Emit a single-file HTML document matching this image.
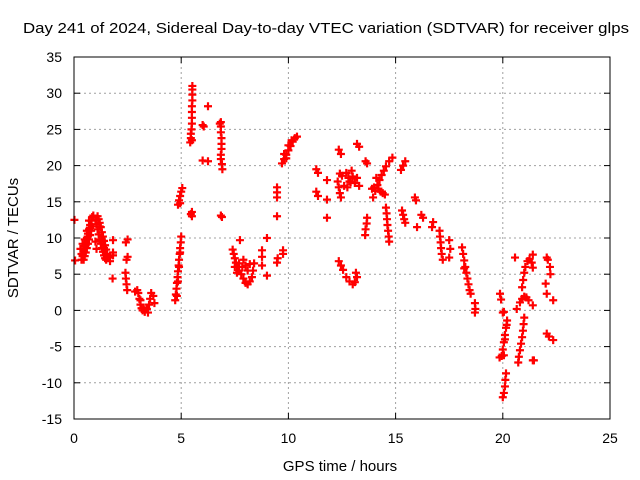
<!DOCTYPE html>
<html><head><meta charset="utf-8"><style>
html,body{margin:0;padding:0;background:#fff;}
svg{display:block;font-family:"Liberation Sans",sans-serif;}
</style></head><body>
<svg id="chart" width="640" height="480" viewBox="0 0 640 480" xmlns="http://www.w3.org/2000/svg">
<rect width="640" height="480" fill="#fff"/>
<text x="326" y="33" font-size="15" text-anchor="middle" textLength="606" lengthAdjust="spacingAndGlyphs">Day 241 of 2024, Sidereal Day-to-day VTEC variation (SDTVAR) for receiver glps</text>
<g id="grid"></g>
<g id="ticks"></g>
<g id="pts"></g>
<rect x="74" y="57" width="536" height="362" fill="none" stroke="#000" stroke-width="1"/>
<text x="340" y="471" font-size="15" text-anchor="middle">GPS time / hours</text>
<text x="18" y="238" font-size="15" text-anchor="middle" transform="rotate(-90 18 238)">SDTVAR / TECUs</text>
</svg>
<script>
const xTicks=[0,5,10,15,20,25];
const yTicks=[-15,-10,-5,0,5,10,15,20,25,30,35];
const times=[0.02,0.05,
0.35,0.4,0.45,0.5,0.55,0.6,0.65,0.7,0.75,0.8,0.85,0.9,
0.45,0.5,0.55,0.6,0.65,0.7,0.75,0.8,0.85,
0.3,0.4,0.5,0.6,0.7,0.55,0.65,0.75,0.35,
1.1,1.15,1.2,1.25,1.3,1.35,1.4,1.45,1.5,1.55,1.6,1.68,
1.0,1.05,1.1,1.15,1.2,1.25,1.3,1.35,1.4,1.45,1.5,
1.0,1.05,1.2,1.3,1.4,
1.82,1.82,1.82,1.8,2.42,2.5,2.45,2.5,2.4,2.42,2.45,2.48,
2.85,2.95,3.0,3.05,3.1,3.15,3.2,3.3,3.4,3.5,3.55,3.6,3.7,3.75,3.45,3.1,3.25,
4.72,4.75,4.78,4.8,4.83,4.85,4.88,4.9,4.93,4.95,4.98,5.0,4.8,4.85,4.9,4.95,
4.85,4.9,4.95,5.0,5.05,4.95,
5.5,5.5,5.45,
5.52,5.52,5.52,5.52,5.5,5.5,5.5,5.5,5.48,5.45,5.45,5.42,5.5,
6.0,6.05,6.25,6.0,6.25,
6.85,6.85,6.85,6.88,6.88,6.88,6.85,6.85,6.9,6.92,6.8,6.9,6.85,
7.4,7.45,7.5,7.55,7.6,7.7,7.8,7.9,8.0,8.1,8.2,8.3,8.35,8.4,8.1,8.0,7.9,7.5,7.6,8.2,7.74,7.7,7.85,
8.77,8.77,8.77,9.0,9.0,
9.47,9.47,9.47,9.47,9.47,9.5,9.75,9.75,
9.7,9.8,9.9,10.0,10.1,10.2,10.3,10.4,9.8,10.0,9.9,10.15,
11.3,11.38,11.3,11.38,11.8,11.8,11.8,
12.35,12.45,13.2,13.3,
12.3,12.35,12.4,12.45,12.5,12.7,12.8,12.9,13.0,13.1,13.2,13.3,12.6,12.4,12.95,12.75,12.85,
12.35,12.45,12.55,12.7,12.85,13.0,13.1,13.2,13.15,
13.67,13.6,
13.95,14.05,14.15,14.25,14.35,14.45,14.55,14.7,14.85,14.0,14.1,13.9,14.3,14.4,14.2,14.5,
15.35,15.45,15.25,
14.55,14.58,14.6,14.62,14.65,14.68,14.7,
13.67,13.65,13.6,13.58,
15.3,15.35,15.4,15.45,
15.9,15.95,16.0,16.28,16.2,16.7,16.75,
17.05,17.07,17.1,17.12,17.15,17.2,17.5,17.55,17.5,
18.1,18.15,18.2,18.25,18.3,18.35,18.4,18.45,18.5,18.2,
18.7,18.72,18.7,
19.87,19.92,20.0,20.05,
20.2,20.15,20.1,20.05,20.0,19.95,19.85,20.05,20.18,20.1,
20.15,20.12,20.1,20.05,20.0,
20.9,20.95,21.0,21.05,21.15,21.25,21.35,21.4,
20.8,20.9,21.0,21.1,21.2,21.4,20.65,
21.0,20.97,20.94,20.9,20.85,20.8,20.75,20.72,21.4,21.45,
22.05,22.1,22.2,22.22,22.0,22.05,22.35,22.05,22.15,22.35,
20.57,21.4];
const values=[12.5,6.9,
7,7.5,8.2,8.8,9.4,10,10.6,11.2,11.8,12.4,12.9,13.1,
7,7.5,8,8.6,9.2,9.8,10.4,11,11.6,
8.5,9.2,9.8,11,12.4,9,10.2,11.4,7.8,
13,12.6,12.1,11.5,10.8,10.2,9.6,9.0,8.4,7.8,7.3,6.8,
12.5,11.9,11.2,10.5,9.8,9.2,8.6,8.1,7.6,7.2,7.0,
9.5,8.5,11.6,9.8,8.6,
9.7,8,7.6,4.4,9.4,9.8,7,7.4,5.2,4.4,3.6,2.8,
2.6,2.8,2.4,1.6,0.8,0.3,0,-0.2,0.2,0.8,1.6,2.4,2.0,1.0,-0.3,1.4,0.4,
1.4,2.2,3,3.8,4.6,5.4,6.2,7,7.8,8.6,9.4,10.2,2,4,6,8,
14.6,15.2,15.8,16.4,16.9,14.8,
13.6,13,13.3,
31,30.5,29.8,29,28.2,27.4,26.6,25.8,25,24.4,23.8,23.2,23.5,
25.6,25.4,28.2,20.7,20.6,
26,25.4,24.6,23.8,23,22.3,21.5,20.9,20.2,19.5,25.8,12.9,13.1,
8.4,7.8,7.2,6.6,6,5.5,5,4.4,3.8,3.6,4.0,4.6,5.5,6.5,5.5,6.2,7,6,5.2,6.4,9.7,6.5,6,
8.3,7.4,6.2,10,4.8,
17,16.3,15.6,13,6.6,7.2,8.3,7.8,
20.3,20.9,21.5,22.1,22.7,23.3,23.8,24,21.6,22.8,21,23.5,
19.5,19,16.4,15.8,18,15.3,12.8,
22.2,21.6,23,22.6,
17.8,17,16.2,15.6,18.6,19,18.3,17.7,18.5,17.6,18.3,17.2,17.2,18.9,19.3,17,17.8,
6.8,6.2,5.6,4.6,4,3.6,3.9,4.6,5.2,
20.3,20.6,
15.6,16.5,17.3,18,18.7,19.3,19.9,20.6,21.1,17,18.3,16.8,16.4,16.2,16.8,16,
20,20.6,19.4,
14.2,13.4,12.6,11.8,11,10.2,9.5,
12.8,12,11.2,10.4,
13.8,13.2,12.6,12.1,
15.6,15.2,11.5,12.8,13.2,11.5,12.2,
11,10.2,9.4,8.6,7.8,7.0,9.7,8.5,7.3,
8.7,7.8,6.9,6,5.2,4.4,3.6,2.8,2.3,5.8,
1,0.2,-0.3,
2.3,1.5,-0.3,-0.2,
-1.4,-2.4,-3.4,-4.4,-5.4,-6.3,-6.5,-6.2,-2,-4,
-8.7,-9.6,-10.5,-11.4,-12,
3.2,4.2,5.2,6,6.8,7.1,6.6,5.9,
1.1,1.6,1.9,1.8,1.4,0.7,0.2,
-1,-1.9,-2.8,-3.7,-4.6,-5.5,-6.4,-7.2,-6.9,-6.9,
7.3,7,6,5,3.7,2.3,1.4,-3.2,-3.6,-4.1,
7.3,7.7];
const X0=74,X1=610,Y0=419,Y1=57,XMIN=0,XMAX=25,YMIN=-15,YMAX=35;
function sx(t){return X0+(t-XMIN)/(XMAX-XMIN)*(X1-X0);}
function sy(v){return Y0-(v-YMIN)/(YMAX-YMIN)*(Y0-Y1);}
const NS="http://www.w3.org/2000/svg";
function mk(tag,attrs,parent){const e=document.createElementNS(NS,tag);for(const k in attrs)e.setAttribute(k,attrs[k]);parent.appendChild(e);return e;}
const grid=document.getElementById('grid'),ticks=document.getElementById('ticks'),pts=document.getElementById('pts');
xTicks.forEach(t=>{const x=sx(t);
 if(t>XMIN&&t<XMAX){const g=mk('line',{x1:x,y1:Y1,x2:x,y2:Y0,stroke:'#a0a0a0','stroke-dasharray':'2,3'},grid);
 
 }
 mk('line',{x1:x,y1:Y0,x2:x,y2:Y0-6,stroke:'#000'},ticks);
 mk('line',{x1:x,y1:Y1,x2:x,y2:Y1+6,stroke:'#000'},ticks);
 const l=mk('text',{x:x,y:Y0+24,'font-size':14,'text-anchor':'middle'},ticks);l.textContent=t;
 
 });
yTicks.forEach(v=>{const y=sy(v);
 if(v>YMIN&&v<YMAX){const g=mk('line',{x1:X0,y1:y,x2:X1,y2:y,stroke:'#a0a0a0','stroke-dasharray':'2,3'},grid);
 
 }
 mk('line',{x1:X0,y1:y,x2:X0+6,y2:y,stroke:'#000'},ticks);
 mk('line',{x1:X1,y1:y,x2:X1-6,y2:y,stroke:'#000'},ticks);
 const l=mk('text',{x:X0-12,y:y+5,'font-size':14,'text-anchor':'end'},ticks);l.textContent=v;
 
 });
for(let i=0;i<times.length;i++){const x=sx(times[i]),y=sy(values[i]);
 const p=mk('path',{d:`M${x-4},${y}H${x+4}M${x},${y-4}V${y+4}`,stroke:'#ff0000','stroke-width':2.2,fill:'none'},pts);
 
 }
</script>
</body></html>
